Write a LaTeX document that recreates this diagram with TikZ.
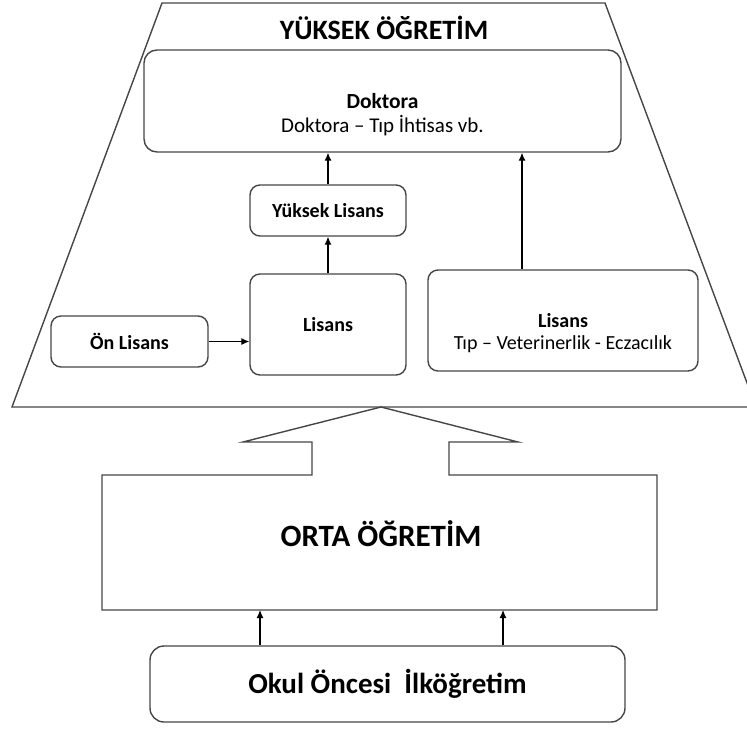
\documentclass[tikz,border=0pt]{standalone}
\usepackage{fontspec}
\setmainfont{Carlito}
\usetikzlibrary{arrows.meta}
\definecolor{linecol}{RGB}{70,70,70}
\begin{document}
\begin{tikzpicture}[x=1pt,y=-1pt,
  shapeline/.style={draw=linecol, line width=1.4pt, line join=miter},
  box/.style={draw=linecol, line width=1.4pt, rounded corners=10pt, inner sep=0pt, align=center, font=\fontsize{20}{22}\selectfont\bfseries},
  subtext/.style={inner sep=0pt, align=center, font=\fontsize{20}{22}\selectfont},
  arr/.style={draw=black, line width=1.1pt, -{Latex[length=8pt,width=7pt]}}
]
\useasboundingbox (0,0) rectangle (747,729);
% Yuksek ogretim trapezoid
\draw[shapeline] (162,3) -- (605,3) -- (756,407) -- (12,407) -- cycle;
\node[font=\fontsize{28}{30}\selectfont\bfseries, inner sep=0pt] (yuksek) at (384,28) {YÜKSEK ÖĞRETİM};

% boxes
\node[box, rounded corners=13pt, minimum width=477pt, minimum height=102pt, font=\fontsize{21.5}{23}\selectfont\bfseries] (doktora) at (382.5,101) {Doktora};
\node[subtext, font=\fontsize{21}{23}\selectfont] (doktorasub) at ([yshift=-25pt]doktora.center) {Doktora – Tıp İhtisas vb.};

\node[box, minimum width=156pt, minimum height=51pt] (ylisans) at (328,210.5) {Yüksek Lisans};
\node[box, minimum width=156pt, minimum height=101pt] (lisans) at (328,324.5) {Lisans};
\node[box, minimum width=157pt, minimum height=51pt] (onlisans) at (129.5,341.5) {Ön Lisans};
\node[box, minimum width=270pt, minimum height=101pt] (rlisans) at (563,320.5) {Lisans};
\node[subtext] (rlisanssub) at ([yshift=-24pt]rlisans.center) {Tıp – Veterinerlik - Eczacılık};

\draw[arr] (onlisans.east) -- (lisans.west |- onlisans.east);
\draw[arr] (lisans.north) -- (ylisans.south);
\draw[arr] (ylisans.north) -- (ylisans.north |- doktora.south);
\draw[arr] ([xshift=-41pt]rlisans.north) -- ([xshift=-41pt]rlisans.north |- doktora.south);

% Orta ogretim arrow shape
\draw[shapeline] (102,475) -- (312,475) -- (312,442) -- (243,442) -- (381,407)
  -- (518,442) -- (449,442) -- (449,475) -- (657,475) -- (657,610) -- (102,610) -- cycle;
\node[font=\fontsize{31}{33}\selectfont\bfseries, inner sep=0pt] (orta) at (381,534) {ORTA ÖĞRETİM};
\coordinate (ortabottom) at (380,610);

\node[box, rounded corners=14pt, minimum width=475pt, minimum height=76pt, font=\fontsize{29}{31}\selectfont\bfseries] (okul) at (387.5,684) {Okul Öncesi\ \ İlköğretim};

\draw[arr] ([xshift=-127.5pt]okul.north) -- ([xshift=-127.5pt]okul.north |- ortabottom);
\draw[arr] ([xshift=115.5pt]okul.north) -- ([xshift=115.5pt]okul.north |- ortabottom);
\end{tikzpicture}
\end{document}
